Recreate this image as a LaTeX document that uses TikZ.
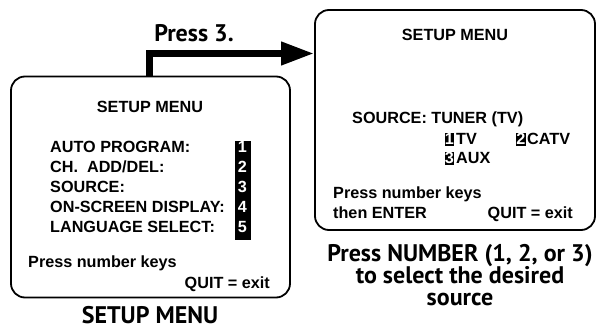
\documentclass[tikz,border=0pt]{standalone}
\usepackage{fontspec}
\usetikzlibrary{arrows.meta}
\newfontfamily\boxfont{Liberation Sans}
\newfontfamily\capfont{PT Sans}
\tikzset{
  screen/.style={draw, line width=1.8pt, rounded corners=14pt, inner sep=0pt},
  mtxt/.style={font=\boxfont\bfseries\fontsize{16.2}{18}\selectfont, inner sep=0pt},
  ctxt/.style={font=\capfont\bfseries\fontsize{24}{28}\selectfont, inner sep=0pt},
  keycol/.style={fill=black, inner sep=0pt},
  keynum/.style={mtxt, text=white},
  bigarrow/.style={line width=7pt, -{Triangle[length=33pt,width=22pt]}}
}
\begin{document}
\begin{tikzpicture}[x=1pt,y=-1pt]
\useasboundingbox (0,0) rectangle (606,331);
% screens
\node[screen, minimum width=279pt, minimum height=221pt] (lbox) at (150.5,187) {};
\node[screen, minimum width=280pt, minimum height=220pt] (rbox) at (455,120) {};
% arrow
\coordinate (turn) at (149,53.5);
\draw[bigarrow] (lbox.north -| turn) -- (turn) -- (turn -| rbox.west);
\node[ctxt, anchor=base] (p3) at (194,42) {Press 3.};
% left screen text
\node[mtxt, anchor=base] (lt) at (150,113) {SETUP MENU};
\node[mtxt, anchor=base west] (l1) at (50,153) {AUTO PROGRAM:};
\node[mtxt, anchor=base west] (l2) at (50,173) {CH.\ \ ADD/DEL:};
\node[mtxt, anchor=base west] (l3) at (50,193) {SOURCE:};
\node[mtxt, anchor=base west] (l4) at (50,213) {ON-SCREEN DISPLAY:};
\node[mtxt, anchor=base west] (l5) at (50,233) {LANGUAGE SELECT:};
\node[keycol, minimum width=16pt, minimum height=99pt] (kc) at (242.5,190.5) {};
\node[keynum, anchor=base] (k1) at (242.5,153) {1};
\node[keynum, anchor=base] (k2) at (242.5,173) {2};
\node[keynum, anchor=base] (k3) at (242.5,193) {3};
\node[keynum, anchor=base] (k4) at (242.5,213) {4};
\node[keynum, anchor=base] (k5) at (242.5,233) {5};
\node[mtxt, anchor=base west] (lp) at (28,268) {Press number keys};
\node[mtxt, anchor=base east] (lq) at (270,289) {QUIT = exit};
\node[ctxt, anchor=base] (lc) at (150,324) {SETUP MENU};
% right screen text
\node[mtxt, anchor=base] (rt) at (455,41) {SETUP MENU};
\node[mtxt, anchor=base west] (rs) at (352,124) {SOURCE: TUNER (TV)};
\node[keycol, minimum width=9pt, minimum height=13pt] (b1) at (449.5,139.5) {};
\node[keynum, anchor=base] at (449.5,145) {1};
\node[mtxt, anchor=base west] (tv) at (456,145) {TV};
\node[keycol, minimum width=10pt, minimum height=13pt] (b2) at (521,139.5) {};
\node[keynum, anchor=base] at (521,145) {2};
\node[mtxt, anchor=base west] (catv) at (527,145) {CATV};
\node[keycol, minimum width=9pt, minimum height=13pt] (b3) at (449.5,158.5) {};
\node[keynum, anchor=base] at (449.5,164) {3};
\node[mtxt, anchor=base west] (aux) at (456,164) {AUX};
\node[mtxt, anchor=base west] (rp) at (333,199) {Press number keys};
\node[mtxt, anchor=base west] (re) at (333,219) {then ENTER};
\node[mtxt, anchor=base east] (rq) at (573,219) {QUIT = exit};
\node[ctxt, anchor=base] (rc1) at (460,262) {Press NUMBER (1, 2, or 3)};
\node[ctxt, anchor=base] (rc2) at (460,284) {to select the desired};
\node[ctxt, anchor=base] (rc3) at (460,306) {source};
\end{tikzpicture}
\end{document}
